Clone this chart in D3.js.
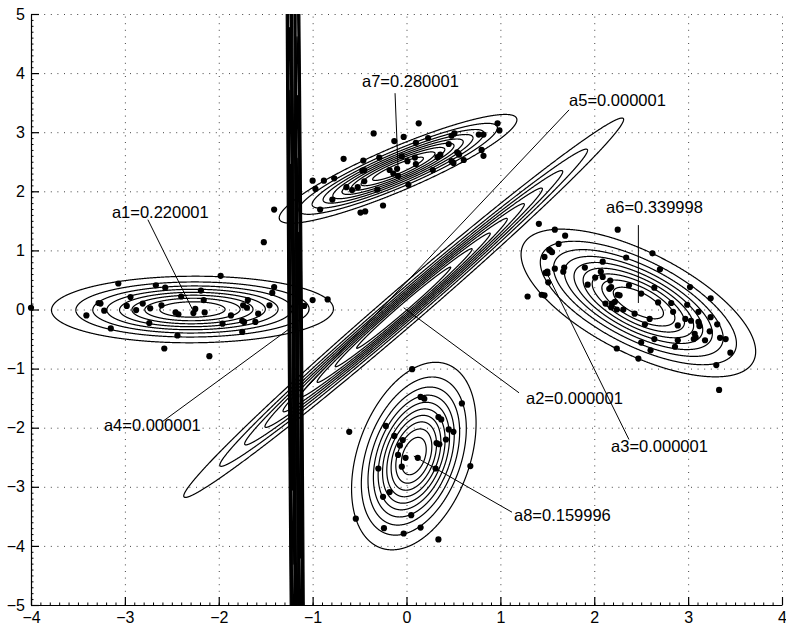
<!DOCTYPE html>
<meta charset="utf-8">
<style>
body { margin: 0; background: #fff; }
text { font-family: "Liberation Sans", Arial, Helvetica, sans-serif; }
</style>
<body>
<div id="chart"></div>
<script src="https://d3js.org/d3.v7.min.js"></script>
<script>

var width = 786,
    height = 630,
    plotLeft = 31, plotRight = 782, plotTop = 14, plotBottom = 605;

var xTicks = [-4, -3, -2, -1, 0, 1, 2, 3, 4];
var yTicks = [-5, -4, -3, -2, -1, 0, 1, 2, 3, 4, 5];

// mixture components (mean, covariance [sxx, sxy, syy], number of contour rings)
var names = ['a1', 'a2', 'a3', 'a4', 'a5', 'a6', 'a7', 'a8'];
var weights = ['0.220001', '0.000001', '0.000001', '0.000001', '0.000001', '0.339998', '0.280001', '0.159996'];
var means = [[-2.28, 0.0], [-0.03, 0.03], [1.50, 0.60], [-1.225, -0.30], [-1.14, -1.45], [2.47, 0.11], [-0.09, 2.38], [0.078, -2.48]];
var covs = [[0.513, 0.004, 0.0722], [1.192, 1.62, 2.237], [0.0003, 0, 0.0003], [0.000956, -0.155, 36],
            [0.000956, -0.155, 36], [0.339, -0.2226, 0.339], [0.348, 0.228, 0.184], [0.0917, 0.0769, 0.525]];
var rings = [8, 9, 3, 9, 9, 9, 9, 10];

// label text (left, baseline) and where the pointer line leaves it
var labelPos = [[-3.138, 1.554], [1.273, -1.605], [2.179, -2.416], [-3.223, -2.056],
                [1.732, 3.446], [2.126, 1.639], [-0.474, 3.767], [1.145, -3.581]];
var lineStart = [[-2.755, 1.52], [1.199, -1.41], [2.37, -2.20], [-2.602, -1.90],
                 [1.732, 3.378], [2.470, 1.428], [-0.122, 3.66], [1.124, -3.43]];

var pointsA1 = [[-4.00,0.03],[-3.07,0.44],[-2.67,0.41],[-2.57,0.37],[-2.94,0.21],[-3.28,0.11],[-3.26,0.10],[-3.22,-0.02],
  [-3.41,-0.10],[-3.15,-0.32],[-2.98,0.06],[-2.88,-0.01],[-2.81,0.10],[-2.73,0.02],[-2.61,0.07],[-2.74,-0.23],[-2.44,-0.44],
  [-2.58,-0.66],[-2.40,0.22],[-2.46,-0.05],[-2.43,-0.08],[-2.27,-0.06],[-2.25,0.01],[-2.15,-0.05],[-2.16,0.16],[-2.19,0.32],
  [-1.98,0.57],[-2.10,-0.79],[-1.96,-0.24],[-1.87,-0.10],[-1.75,-0.19],[-1.73,-0.21],[-1.75,-0.38],[-1.74,0.07],[-1.70,0.03],
  [-1.69,0.16],[-1.58,-0.07],[-1.61,-0.21],[-1.46,0.07],[-1.43,0.28],[-1.41,0.38],[-1.09,0.06],[-1.00,0.16],[-0.84,0.17],
  [-1.52,1.14]];
var pointsA7 = [[0.13,3.15],[0.97,3.15],[0.99,3.03],[-0.35,2.98],[0.77,2.96],[0.82,2.96],[0.48,2.94],[0.51,2.98],[-0.03,2.92],
  [-0.13,2.85],[0.23,2.90],[0.10,2.82],[0.45,2.80],[0.80,2.70],[0.82,2.60],[0.54,2.66],[0.56,2.62],[0.36,2.62],[0.33,2.58],
  [0.61,2.53],[0.48,2.51],[0.50,2.48],[0.09,2.57],[0.01,2.51],[0.10,2.46],[-0.05,2.59],[-0.29,2.57],[-0.46,2.52],[-0.67,2.55],
  [-0.47,2.35],[-0.45,2.36],[-0.18,2.36],[-0.10,2.38],[-0.14,2.30],[-0.09,2.26],[0.28,2.36],[-0.77,2.22],[-0.88,2.18],
  [-1.00,2.18],[-0.45,2.17],[-0.97,2.04],[-0.64,2.07],[-0.58,2.02],[-0.52,2.07],[-0.31,2.03],[0.02,2.11],[-0.79,1.86],
  [-0.25,1.76],[-0.92,1.69],[-0.49,1.64],[-0.44,1.66],[-1.41,1.69]];
var pointsA6 = [[1.41,1.45],[1.58,1.35],[1.69,1.25],[2.25,1.35],[1.62,1.11],[1.52,1.01],[1.55,0.97],[1.47,0.89],[1.58,0.69],
  [1.68,0.71],[1.67,0.64],[1.48,0.62],[1.51,0.46],[1.29,0.22],[1.44,0.25],[1.47,0.24],[1.90,0.71],[2.09,0.81],[2.34,0.88],
  [2.62,0.95],[2.70,0.68],[2.07,0.64],[2.09,0.55],[2.01,0.54],[1.93,0.42],[2.17,0.49],[2.16,0.35],[2.18,0.38],[2.37,0.41],
  [2.25,0.25],[2.27,0.24],[2.22,0.13],[2.19,0.10],[2.12,0.10],[2.18,0.04],[2.24,0.00],[2.31,0.00],[2.43,-0.07],[2.50,0.27],
  [2.64,0.37],[2.68,0.12],[2.82,0.11],[2.84,-0.04],[3.02,0.38],[2.99,0.08],[3.11,-0.04],[3.24,0.19],[3.24,-0.13],[2.59,-0.16],
  [2.54,-0.25],[2.64,-0.50],[2.50,-0.56],[2.60,-0.69],[2.24,-0.66],[2.47,-0.83],[2.89,-0.27],[2.89,-0.52],[2.86,-0.63],
  [2.97,-0.16],[3.03,-0.19],[3.11,-0.21],[3.12,-0.28],[3.07,-0.41],[3.08,-0.47],[3.06,-0.50],[3.18,-0.52],[3.23,-0.37],
  [3.31,-0.25],[3.34,-0.48],[3.40,-0.50],[3.45,-0.73],[3.30,-0.94],[3.33,-1.36],[1.53,1.00],[1.50,0.64]];
var pointsA8 = [[0.06,-1.01],[0.15,-1.48],[0.19,-1.51],[0.59,-1.59],[0.34,-1.82],[0.37,-1.86],[-0.22,-1.97],[-0.61,-2.07],
  [0.45,-2.03],[0.50,-2.07],[-0.13,-2.14],[0.42,-2.20],[-0.04,-2.21],[0.32,-2.26],[0.35,-2.28],[-0.07,-2.30],[-0.09,-2.46],
  [-0.01,-2.51],[0.12,-2.51],[-0.05,-2.66],[-0.30,-2.69],[0.31,-2.69],[0.68,-2.65],[-0.18,-3.09],[-0.25,-3.17],[0.05,-3.48],
  [-0.54,-3.54],[-0.24,-3.70],[0.15,-3.69],[-0.03,-3.79],[0.34,-3.89]];

var x = d3.scaleLinear().domain([-4, 4]).range([plotLeft, plotRight]);
var y = d3.scaleLinear().domain([-5, 5]).range([plotBottom, plotTop]);

var svg = d3.select("#chart").append("svg")
    .attr("width", width)
    .attr("height", height);

svg.append("clipPath").attr("id", "plot")
  .append("rect")
    .attr("x", plotLeft).attr("y", plotTop)
    .attr("width", plotRight - plotLeft).attr("height", plotBottom - plotTop);

// dotted grid
svg.append("g")
    .attr("transform", "translate(0," + plotBottom + ")")
    .call(d3.axisBottom(x).tickValues(xTicks).tickSize(-(plotBottom - plotTop)).tickFormat(""))
    .call(g => g.select(".domain").remove())
    .selectAll("line")
      .attr("stroke", "#444")
      .attr("stroke-dasharray", "1,5.6");
svg.append("g")
    .attr("transform", "translate(" + plotLeft + ",0)")
    .call(d3.axisLeft(y).tickValues(yTicks).tickSize(-(plotRight - plotLeft)).tickFormat(""))
    .call(g => g.select(".domain").remove())
    .selectAll("line")
      .attr("stroke", "#444")
      .attr("stroke-dasharray", "1,5.6");

// contour rings of each gaussian
function ellipse(m, c, r) {
  var l00 = Math.sqrt(c[0]),
      l10 = c[1] / l00,
      l11 = Math.sqrt(c[2] - l10 * l10),
      pts = [];
  for (var j = 0; j < 1440; ++j) {
    var t = 2 * Math.PI * j / 1440;
    pts.push([m[0] + r * l00 * Math.cos(t), m[1] + r * (l10 * Math.cos(t) + l11 * Math.sin(t))]);
  }
  return pts;
}

var line = d3.line()
    .x(d => x(d[0]))
    .y(d => y(d[1]))
    .curve(d3.curveLinearClosed);

var contours = svg.append("g").attr("clip-path", "url(#plot)");
names.forEach(function(n, i) {
  for (var k = 1; k <= rings[i]; ++k) {
    var r = Math.sqrt(-2 * Math.log(k / (rings[i] + 1)));
    contours.append("path")
        .attr("d", line(ellipse(means[i], covs[i], r)))
        .attr("fill", "none")
        .attr("stroke", "#000")
        .attr("stroke-width", 1.2);
  }
});

// samples
var points = pointsA1.concat(pointsA7, pointsA6, pointsA8);
svg.append("g")
  .selectAll("circle")
  .data(points)
  .enter().append("circle")
    .attr("cx", d => x(d[0]))
    .attr("cy", d => y(d[1]))
    .attr("r", 3.1)
    .attr("fill", "#000");

// labels with pointer lines
svg.append("g")
  .selectAll("line")
  .data(names)
  .enter().append("line")
    .attr("x1", (d, i) => x(lineStart[i][0]))
    .attr("y1", (d, i) => y(lineStart[i][1]))
    .attr("x2", (d, i) => x(means[i][0]))
    .attr("y2", (d, i) => y(means[i][1]))
    .attr("stroke", "#000")
    .attr("stroke-width", 1);

svg.append("g")
  .selectAll("text")
  .data(names)
  .enter().append("text")
    .attr("x", (d, i) => x(labelPos[i][0]))
    .attr("y", (d, i) => y(labelPos[i][1]))
    .attr("font-size", 16.5)
    .attr("fill", "#000")
    .text((d, i) => d + "=" + weights[i]);

// axes, ticks inside
var fmt = d => (d < 0 ? "\u2212" + (-d) : "" + d);

var xAxis = svg.append("g")
    .attr("transform", "translate(0," + plotBottom + ")")
    .call(d3.axisBottom(x).tickValues(xTicks).tickSizeInner(-8).tickSizeOuter(0).tickPadding(7).tickFormat(fmt));
var yAxis = svg.append("g")
    .attr("transform", "translate(" + plotLeft + ",0)")
    .call(d3.axisLeft(y).tickValues(yTicks).tickSizeInner(-8).tickSizeOuter(0).tickPadding(6).tickFormat(fmt));

[xAxis, yAxis].forEach(function(g) {
  g.selectAll("text").attr("font-size", 16).attr("font-family", "Liberation Sans, Arial, sans-serif").attr("fill", "#000");
  g.selectAll("line, path").attr("stroke", "#000").attr("stroke-width", 1.2);
});

// minor ticks
svg.append("g")
    .attr("transform", "translate(0," + plotBottom + ")")
    .call(d3.axisBottom(x).ticks(80).tickSize(-2.5).tickFormat(""))
    .call(g => g.select(".domain").remove())
    .selectAll("line").attr("stroke", "#000");
svg.append("g")
    .attr("transform", "translate(" + plotLeft + ",0)")
    .call(d3.axisLeft(y).ticks(100).tickSize(-2.5).tickFormat(""))
    .call(g => g.select(".domain").remove())
    .selectAll("line").attr("stroke", "#000");

</script>
